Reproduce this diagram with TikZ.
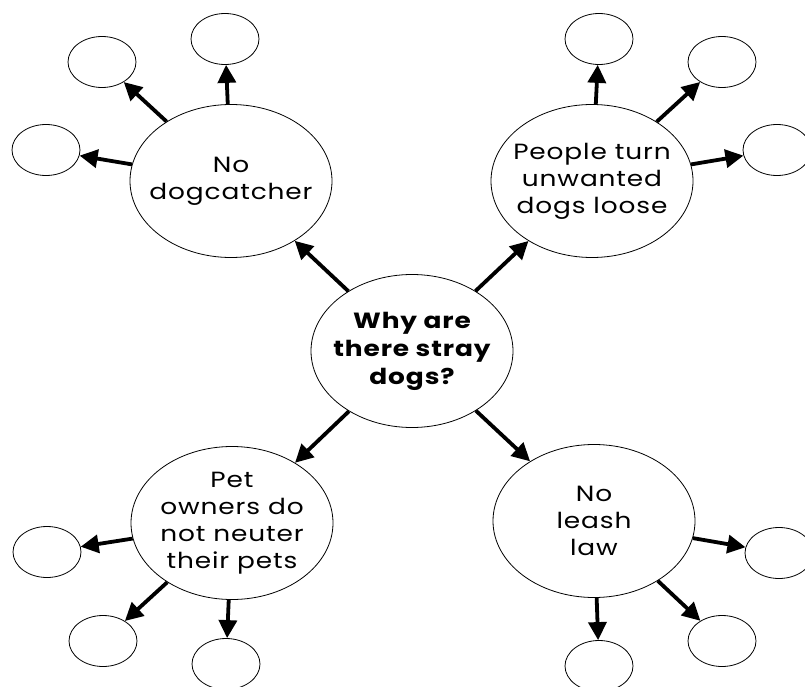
\documentclass[tikz,border=0pt]{standalone}
\usepackage{fontspec}
\setmainfont{Poppins}[FakeStretch=1.2,LetterSpace=4]
\usepackage{tikz}
\usetikzlibrary{arrows.meta,shapes.geometric,positioning}

\begin{document}
\begin{tikzpicture}[x=1pt,y=-1pt,->,>={Triangle[length=18pt,width=18pt]},
line width=3.8pt]
\tikzstyle{big}=[ellipse,draw=black,line width=0.8pt,minimum width=202pt,minimum height=153pt,
inner xsep=-20pt,inner ysep=-10pt,align=center,font=\fontsize{22}{27}\selectfont]
\tikzstyle{leaf}=[ellipse,draw=black,line width=0.8pt,minimum width=68pt,minimum height=51pt,inner sep=0pt]

\useasboundingbox (0,0) rectangle (805,687);

% main question and the four causes
\node[big,font=\fontsize{22}{28}\selectfont\bfseries] (why) at (412,351) {Why are\\there stray\\dogs?};
\node[big] (catcher) at (231,181) {No\\dogcatcher};
\node[big] (loose)   at (592,181) {People turn\\unwanted\\dogs loose};
\node[big] (neuter)  at (232,523) {Pet\\owners do\\not neuter\\their pets};
\node[big] (leash)   at (594,521) {No\\leash\\law};

% empty leaves
\node[leaf] (catcherA) at (102,62)  {};
\node[leaf] (catcherB) at (225,39)  {};
\node[leaf] (catcherC) at (46,150)  {};
\node[leaf] (looseA)   at (599,39)  {};
\node[leaf] (looseB)   at (722,62)  {};
\node[leaf] (looseC)   at (777,150) {};
\node[leaf] (neuterA)  at (47,552)  {};
\node[leaf] (neuterB)  at (103,641) {};
\node[leaf] (neuterC)  at (226,664) {};
\node[leaf] (leashA)   at (779,553) {};
\node[leaf] (leashB)   at (722,641) {};
\node[leaf] (leashC)   at (599,666) {};

\path
(why) edge (catcher)
(why) edge (loose)
(why) edge (neuter)
(why) edge (leash)
(catcher) edge (catcherA)
(catcher) edge (catcherB)
(catcher) edge (catcherC)
(loose) edge (looseA)
(loose) edge (looseB)
(loose) edge (looseC)
(neuter) edge (neuterA)
(neuter) edge (neuterB)
(neuter) edge (neuterC)
(leash) edge (leashA)
(leash) edge (leashB)
(leash) edge (leashC);

\end{tikzpicture}
\end{document}
